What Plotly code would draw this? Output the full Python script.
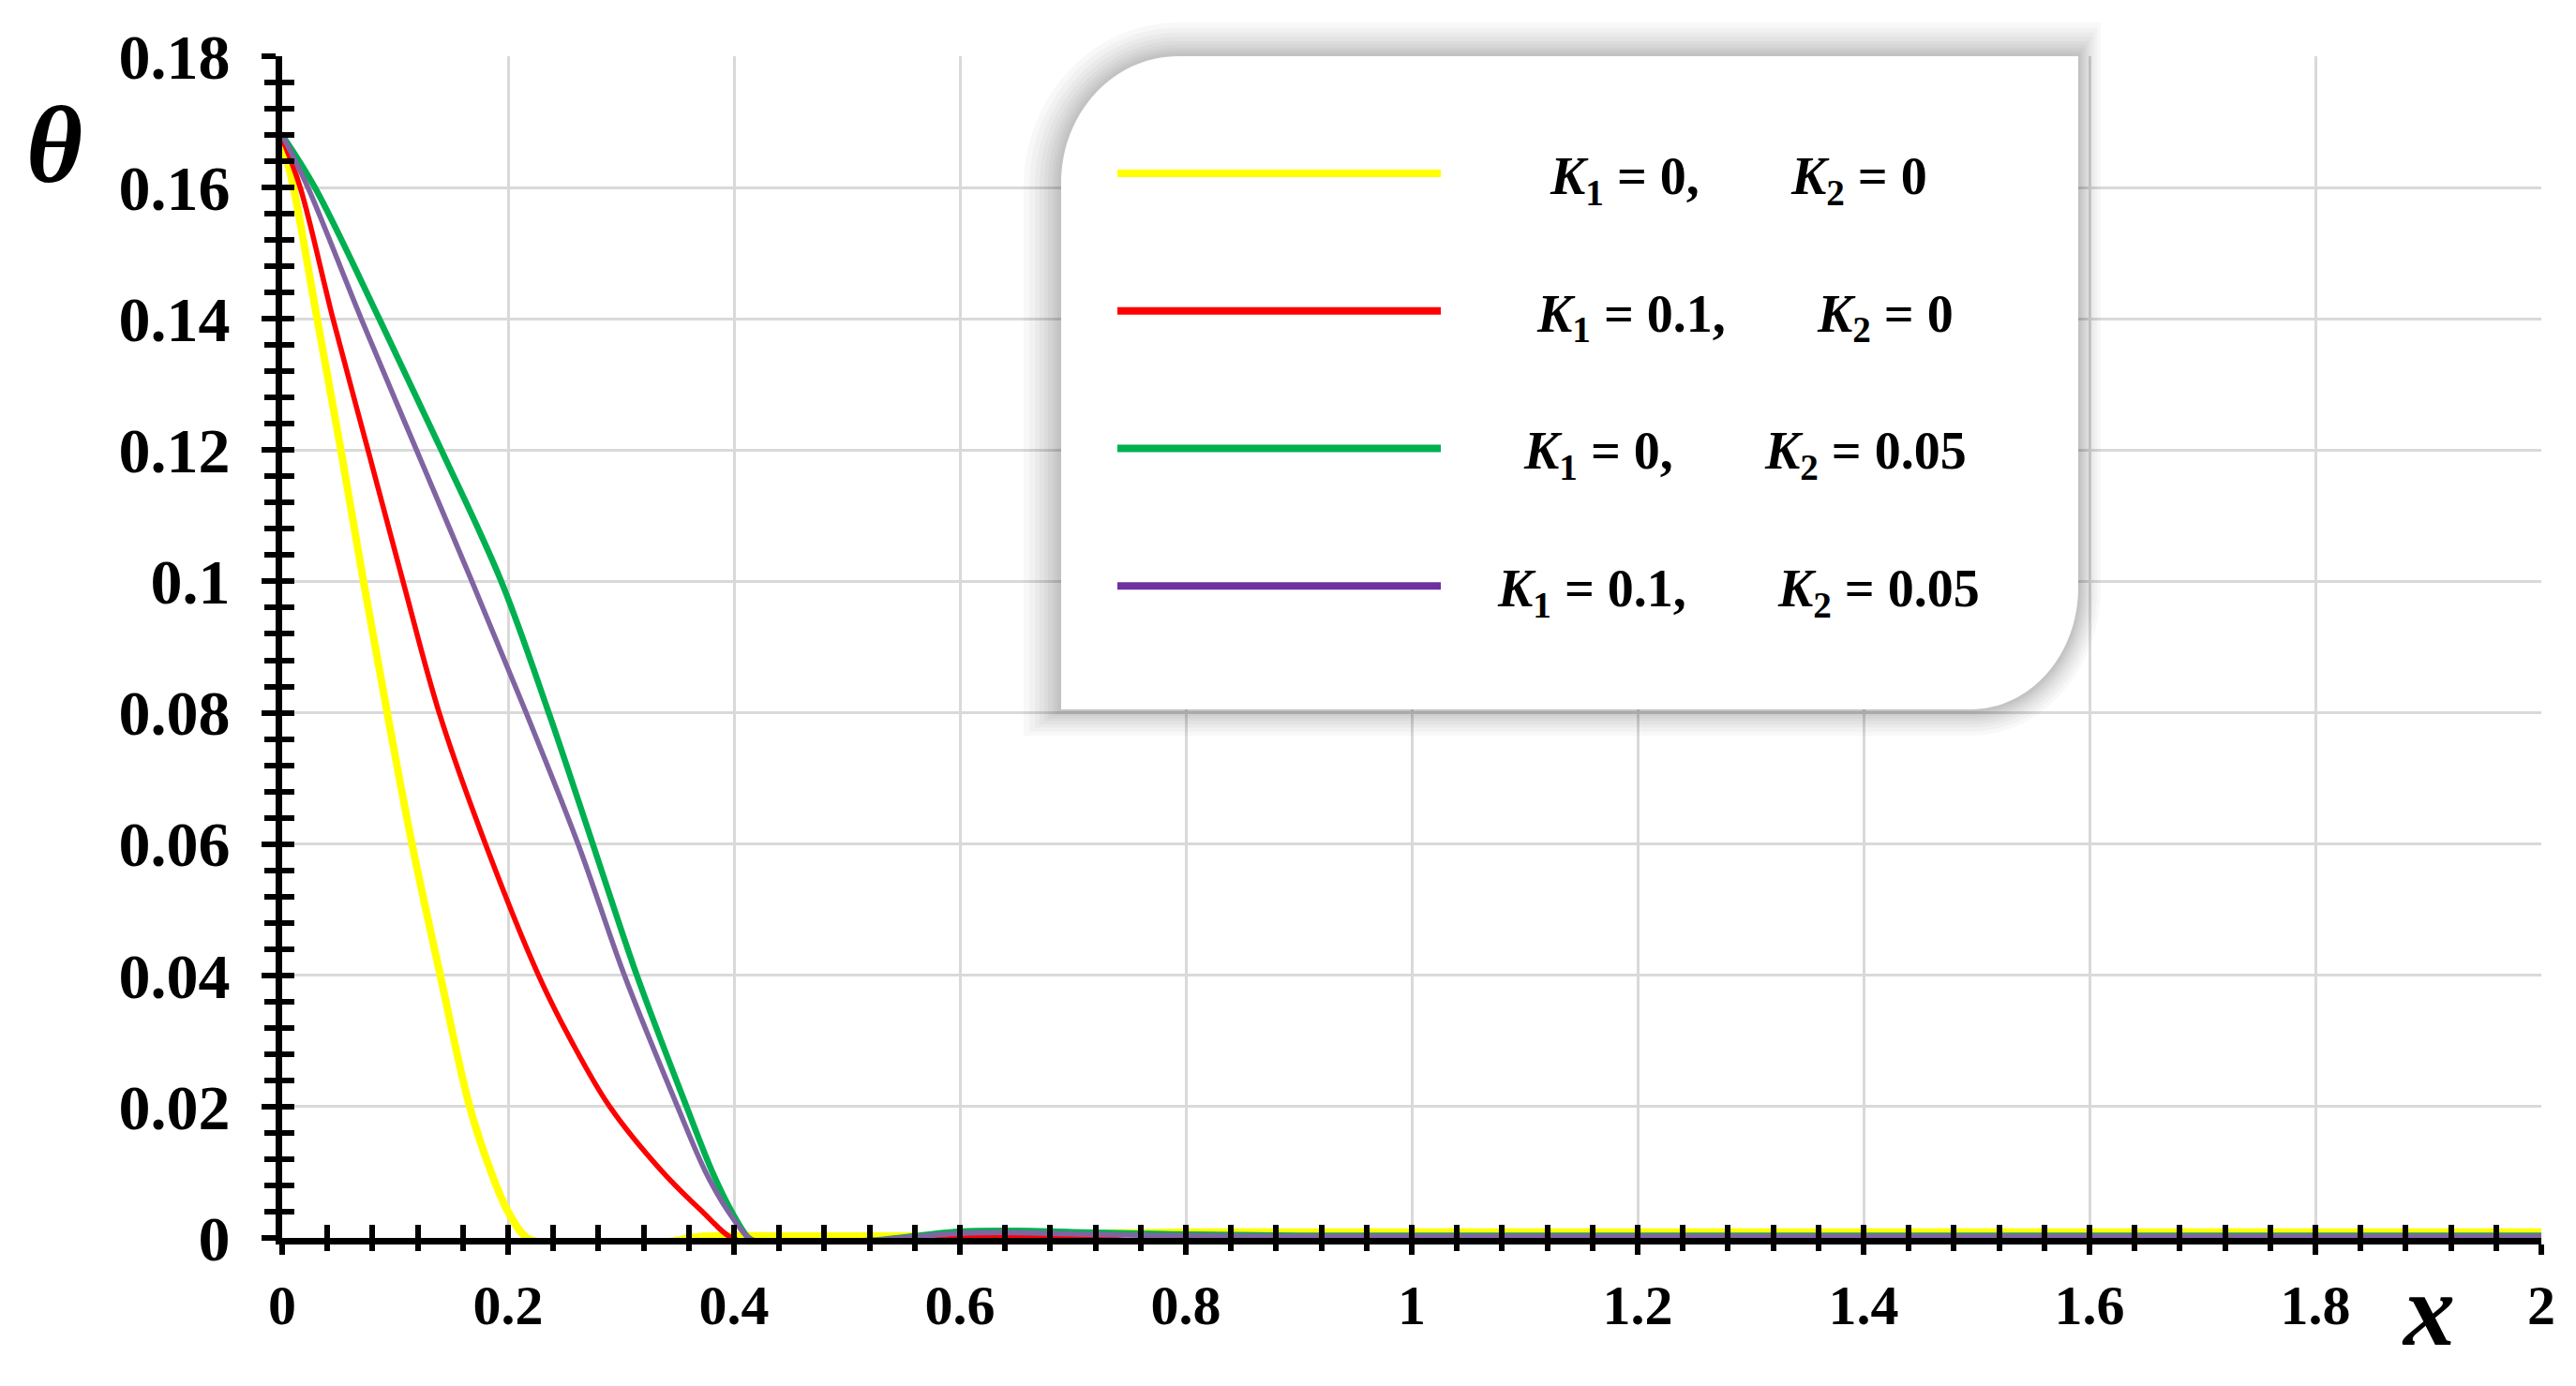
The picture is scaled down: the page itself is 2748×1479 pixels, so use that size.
import plotly.graph_objects as go

# ---------------- data ----------------
x_yellow = [0, 0.010, 0.031, 0.052, 0.072, 0.093, 0.115, 0.140, 0.166, 0.185, 0.200, 0.217,
            0.24, 0.30, 0.34, 0.37, 0.45, 0.55, 0.70, 0.80, 1.0, 1.4, 1.8, 2.0]
y_yellow = [0.167, 0.16, 0.14, 0.12, 0.10, 0.08, 0.06, 0.04, 0.02, 0.01, 0.004, 0.0,
            -0.0008, -0.0008, -0.0006, 0.0002, 0.0003, 0.0003, 0.0006, 0.0009, 0.0009, 0.0009, 0.0009, 0.0009]

x_red = [0, 0.016, 0.045, 0.076, 0.107, 0.139, 0.180, 0.227, 0.256, 0.290, 0.337, 0.372, 0.398,
         0.42, 0.55, 0.60, 0.66, 0.72, 0.78, 1.0, 1.5, 2.0]
y_red = [0.1675, 0.16, 0.14, 0.12, 0.10, 0.08, 0.06, 0.04, 0.03, 0.02, 0.01, 0.004, 0.0,
         -0.0008, -0.0006, 0.0, 0.0001, 0.0, -0.0008, -0.0008, -0.0008, -0.0008]

x_green = [0, 0.029, 0.086, 0.141, 0.194, 0.236, 0.275, 0.314, 0.358, 0.381, 0.398, 0.413,
           0.42, 0.52, 0.56, 0.60, 0.65, 0.70, 0.78, 0.90, 1.2, 1.6, 2.0]
y_green = [0.168, 0.16, 0.14, 0.12, 0.10, 0.08, 0.06, 0.04, 0.02, 0.01, 0.004, 0.0,
           -0.0006, -0.0004, 0.0003, 0.0010, 0.0011, 0.0009, 0.0006, 0.00035, 0.00035, 0.00035, 0.00035]

x_purple = [0, 0.0228, 0.070, 0.119, 0.168, 0.216, 0.262, 0.303, 0.350, 0.375, 0.395, 0.413,
            0.42, 0.52, 0.56, 0.60, 0.65, 0.70, 0.76, 0.85, 1.2, 1.6, 2.0]
y_purple = [0.168, 0.16, 0.14, 0.12, 0.10, 0.08, 0.06, 0.04, 0.02, 0.01, 0.004, 0.0,
            -0.0005, -0.0004, 0.0002, 0.0007, 0.0008, 0.0006, 0.0004, 0.0003, 0.0003, 0.0003, 0.0003]

k1_labels = ["<i>K</i><sub>1</sub> = 0,", "<i>K</i><sub>1</sub> = 0.1,",
             "<i>K</i><sub>1</sub> = 0,", "<i>K</i><sub>1</sub> = 0.1,"]
k2_labels = ["<i>K</i><sub>2</sub> = 0", "<i>K</i><sub>2</sub> = 0",
             "<i>K</i><sub>2</sub> = 0.05", "<i>K</i><sub>2</sub> = 0.05"]

# ---------------- geometry (page pixels; body margin of 8 px) ----------------
OFF = 8
W, H = 2732, 1463
L, T = 301 - OFF, 60 - OFF
R = W - (2711 - OFF)
B = H - (1321 - OFF)
PW = W - L - R
PH = H - T - B


def pxx(px):
    return (px - OFF - L) / PW


def pxy(py):
    return (H - B - (py - OFF)) / PH


NB = "\u00a0"
lead = [8, 7, 6, 4]
gap = 7

line_colors = ["#FFFF00", "#FF0000", "#00B050", "#8064A2"]
legend_colors = ["#FFFF00", "#FF0000", "#00B050", "#7030A0"]
widths = [8, 5.5, 6.5, 5.5]
xs = [x_yellow, x_red, x_green, x_purple]
ys = [y_yellow, y_red, y_green, y_purple]

fig = go.Figure()
for i in range(4):
    fig.add_trace(go.Scatter(
        x=xs[i], y=ys[i], mode="lines",
        line=dict(color=line_colors[i], width=widths[i], shape="spline", smoothing=1.0),
        name=k1_labels[i] + " " + k2_labels[i],
        showlegend=False, legendgroup="g%d" % i,
        hoverinfo="skip",
    ))
# legend entries (thicker sample lines, as in the reference)
for i in range(4):
    fig.add_trace(go.Scatter(
        x=[None], y=[None], mode="lines",
        line=dict(color=legend_colors[i], width=8),
        name=NB * lead[i] + k1_labels[i] + NB * gap + k2_labels[i],
        legendgroup="g%d" % i, showlegend=True, hoverinfo="skip",
    ))
# carrier for the overlaid axes that draw the inner half of the crossing ticks
fig.add_trace(go.Scatter(x=[None], y=[None], xaxis="x2", yaxis="y2",
                         showlegend=False, hoverinfo="skip"))

# ---------------- legend box with rounded corners and shadow ----------------
bxL, bxT, bxR, bxB = 1132, 60, 2217, 757
r1x, r1y = 125, 135
r2x, r2y = 115, 130
k = 0.5523


def box_path(l, t, r, b, a1x, a1y, a2x, a2y):
    pts = ["M%.5f,%.5f" % (pxx(l), pxy(t + a1y)),
           "C%.5f,%.5f %.5f,%.5f %.5f,%.5f" % (
               pxx(l), pxy(t + a1y - k * a1y),
               pxx(l + a1x - k * a1x), pxy(t),
               pxx(l + a1x), pxy(t)),
           "L%.5f,%.5f" % (pxx(r), pxy(t)),
           "L%.5f,%.5f" % (pxx(r), pxy(b - a2y)),
           "C%.5f,%.5f %.5f,%.5f %.5f,%.5f" % (
               pxx(r), pxy(b - a2y + k * a2y),
               pxx(r - a2x + k * a2x), pxy(b),
               pxx(r - a2x), pxy(b)),
           "L%.5f,%.5f" % (pxx(l), pxy(b)),
           "Z"]
    return " ".join(pts)


shapes = []
for e in [40, 34, 28, 23, 18, 14, 10, 7, 4]:
    shapes.append(dict(
        type="path", xref="paper", yref="paper", layer="above",
        path=box_path(bxL - e, bxT - e * 0.9, bxR + e * 0.6, bxB + e * 0.7,
                      r1x + e, r1y + e, r2x + e * 0.6, r2y + e * 0.7),
        fillcolor="rgba(0,0,0,0.026)", line=dict(width=0),
    ))
shapes.append(dict(
    type="path", xref="paper", yref="paper", layer="above",
    path=box_path(bxL, bxT, bxR, bxB, r1x, r1y, r2x, r2y),
    fillcolor="white", line=dict(width=0),
))

tick_font_y = dict(family="Liberation Serif", size=68, color="black", weight=700)
tick_font_x = dict(family="Liberation Serif", size=60, color="black", weight=700)

fig.update_layout(
    width=W, height=H,
    margin=dict(l=L, r=R, t=T, b=B, autoexpand=False),
    paper_bgcolor="white", plot_bgcolor="white",
    showlegend=True,
    legend=dict(
        x=pxx(1187), y=pxy(142), xanchor="left", yanchor="top",
        bgcolor="rgba(0,0,0,0)", borderwidth=0,
        font=dict(family="Liberation Serif", size=56, color="black", weight=700),
        itemwidth=345, tracegroupgap=71, traceorder="grouped",
        itemclick=False, itemdoubleclick=False,
    ),
    xaxis=dict(
        range=[0, 2], tick0=0, dtick=0.2,
        showgrid=True, gridcolor="#D9D9D9", gridwidth=3,
        zeroline=False,
        showline=True, linecolor="black", linewidth=7,
        ticks="outside", ticklen=11, tickwidth=6, tickcolor="black",
        minor=dict(dtick=0.04, ticks="outside", ticklen=7, tickwidth=6,
                   tickcolor="black", showgrid=False),
        tickfont=tick_font_x, ticklabelstandoff=2,
        fixedrange=True,
    ),
    yaxis=dict(
        range=[0, 0.18], tick0=0, dtick=0.02,
        showgrid=True, gridcolor="#D9D9D9", gridwidth=3,
        zeroline=False,
        showline=True, linecolor="black", linewidth=7,
        ticks="outside", ticklen=15, tickwidth=6, tickcolor="black",
        minor=dict(dtick=0.004, ticks="outside", ticklen=12, tickwidth=6,
                   tickcolor="black", showgrid=False),
        tickfont=tick_font_y, ticklabelstandoff=20,
        fixedrange=True,
    ),
    xaxis2=dict(
        overlaying="x", anchor="y2", side="bottom", range=[0, 2], tick0=0, dtick=0.2,
        showgrid=False, zeroline=False, showline=False, showticklabels=False,
        ticks="inside", ticklen=14, tickwidth=6, tickcolor="black",
        minor=dict(dtick=0.04, ticks="inside", ticklen=14, tickwidth=6,
                   tickcolor="black", showgrid=False),
        fixedrange=True,
    ),
    yaxis2=dict(
        overlaying="y", anchor="x2", side="left", range=[0, 0.18], tick0=0, dtick=0.02,
        showgrid=False, zeroline=False, showline=False, showticklabels=False,
        ticks="inside", ticklen=13, tickwidth=6, tickcolor="black",
        minor=dict(dtick=0.004, ticks="inside", ticklen=13, tickwidth=6,
                   tickcolor="black", showgrid=False),
        fixedrange=True,
    ),
    shapes=shapes,
    annotations=[
        dict(text="<b><i>θ</i></b>", xref="paper", yref="paper",
             x=pxx(58), y=pxy(155), xanchor="center", yanchor="middle",
             showarrow=False,
             font=dict(family="Liberation Serif", size=116, color="black")),
        dict(text="<b><i>x</i></b>", xref="paper", yref="paper",
             x=pxx(2590), y=pxy(1398), xanchor="center", yanchor="middle",
             showarrow=False,
             font=dict(family="Liberation Serif", size=110, color="black")),
    ],
)

fig.write_html("out.html")
